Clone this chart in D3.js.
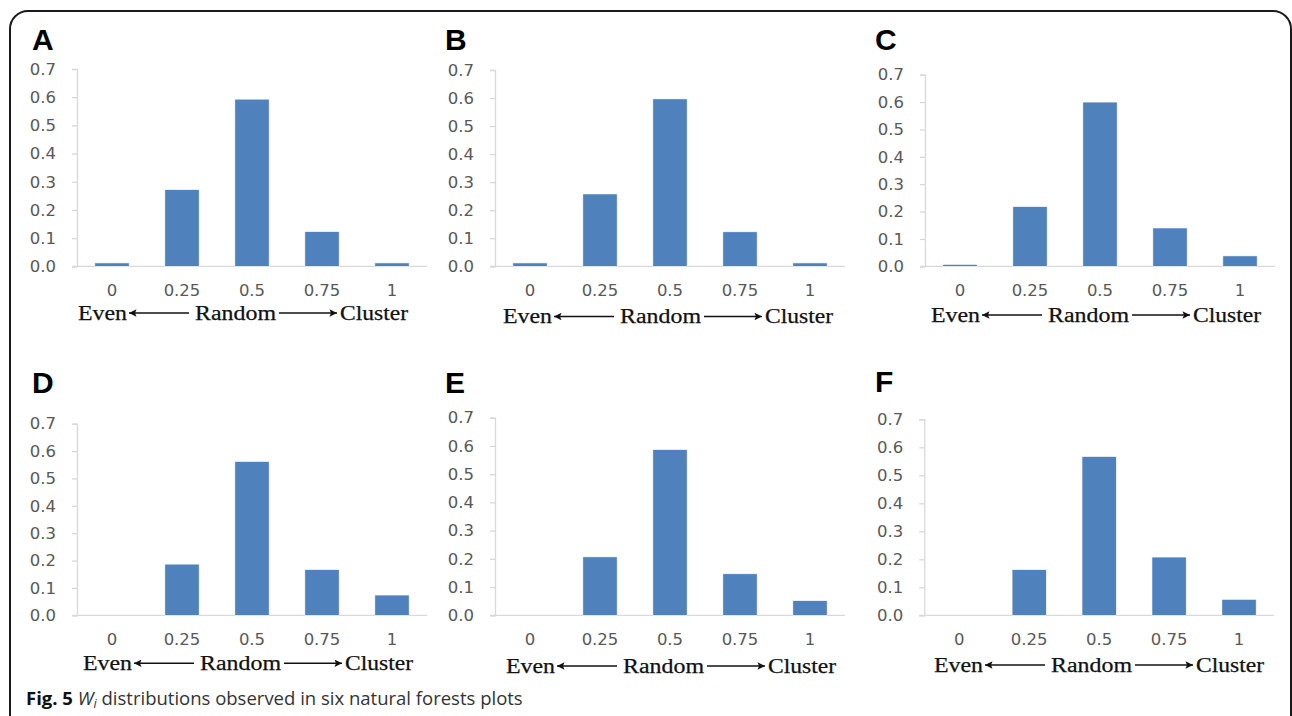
<!DOCTYPE html>
<html>
<head>
<meta charset="utf-8">
<script src="https://cdn.jsdelivr.net/npm/d3@7"></script>
<style>
  html, body { margin: 0; padding: 0; background: #fff; }
  svg { display: block; }
</style>
</head>
<body>
<svg id="chart" width="1292" height="716"></svg>
<script>
// ---------------- DATA ----------------
const categories = ["0", "0.25", "0.5", "0.75", "1"];
const panelLabels = ["A", "B", "C", "D", "E", "F"];
const valuesA = [0.012, 0.272, 0.593, 0.123, 0.012];
const valuesB = [0.012, 0.258, 0.597, 0.123, 0.012];
const valuesC = [0.007, 0.218, 0.600, 0.140, 0.038];
const valuesD = [0.000, 0.187, 0.562, 0.167, 0.074];
const valuesE = [0.000, 0.207, 0.587, 0.147, 0.052];
const valuesF = [0.000, 0.163, 0.567, 0.208, 0.057];
const yTicks = [0, 0.1, 0.2, 0.3, 0.4, 0.5, 0.6, 0.7];
const axisWords = ["Even", "Random", "Cluster"];
const captionBold = "Fig. 5";
const captionVar = "W";
const captionSub = "i";
const captionRest = " distributions observed in six natural forests plots";

const seriesList = [valuesA, valuesB, valuesC, valuesD, valuesE, valuesF];

// ---------------- LAYOUT ----------------
const layout = [
  { x0: 77,    x1: 427,  yTop: 69,    y0: 266.3, lx: 32,  ly: 50,    ax: 78,  ay: 313 },
  { x0: 495,   x1: 845,  yTop: 70,    y0: 266.3, lx: 445, ly: 50,    ax: 503, ay: 316.5 },
  { x0: 925,   x1: 1275, yTop: 74.7,  y0: 266.3, lx: 875, ly: 50,    ax: 931, ay: 315 },
  { x0: 77,    x1: 427,  yTop: 423.7, y0: 615.3, lx: 32,  ly: 392.5, ax: 83,  ay: 663.3 },
  { x0: 495,   x1: 845,  yTop: 417.7, y0: 615.3, lx: 445, ly: 392.5, ax: 506, ay: 666 },
  { x0: 924.3, x1: 1274, yTop: 419.3, y0: 615.3, lx: 875, ly: 391.7, ax: 934, ay: 665 }
];

const svg = d3.select("#chart");
const barColor = "#4f81bd";
const axisColor = "#d9d9d9";
const tickText = "#595959";
const tickFont = "'DejaVu Sans', sans-serif";

// outer rounded frame
svg.append("rect")
  .attr("x", 10).attr("y", 11)
  .attr("width", 1281).attr("height", 800)
  .attr("rx", 18).attr("ry", 18)
  .attr("fill", "none").attr("stroke", "#1a1a1a").attr("stroke-width", 2);

// arrowhead marker
const defs = svg.append("defs");
defs.append("marker")
  .attr("id", "ah").attr("viewBox", "0 0 10 10")
  .attr("refX", 10).attr("refY", 5)
  .attr("markerWidth", 11).attr("markerHeight", 7.5)
  .attr("markerUnits", "userSpaceOnUse")
  .attr("orient", "auto")
  .append("path").attr("d", "M0,0 L10,5 L0,10 L2,5 Z").attr("fill", "#111");

seriesList.forEach((vals, i) => {
  const L = layout[i];
  const g = svg.append("g");

  const x = d3.scaleBand().domain(categories).range([L.x0, L.x1])
    .paddingInner(0.51).paddingOuter(0.255);
  const y = d3.scaleLinear().domain([0, 0.7]).range([L.y0, L.yTop]);

  // baseline (x axis line)
  g.append("line")
    .attr("x1", L.x0 - 5).attr("x2", L.x1)
    .attr("y1", y(0)).attr("y2", y(0))
    .attr("stroke", axisColor).attr("stroke-width", 1.3);

  // y axis
  const yAxis = d3.axisLeft(y).tickValues(yTicks).tickFormat(d3.format(".1f"))
    .tickSize(5).tickPadding(16);
  const ya = g.append("g").attr("transform", `translate(${L.x0},0)`).call(yAxis);
  ya.attr("font-family", null).attr("font-size", null);
  ya.select(".domain").attr("stroke", axisColor).attr("stroke-width", 1.3);
  ya.selectAll(".tick line").attr("stroke", axisColor).attr("stroke-width", 1.3);
  ya.selectAll(".tick text")
    .attr("fill", tickText)
    .style("font-family", tickFont)
    .style("font-size", "16.5px");

  // x axis labels
  const xAxis = d3.axisBottom(x).tickSize(0).tickPadding(18);
  const xa = g.append("g").attr("transform", `translate(0,${y(0)})`).call(xAxis);
  xa.attr("font-family", null).attr("font-size", null);
  xa.select(".domain").remove();
  xa.selectAll(".tick text")
    .attr("fill", tickText)
    .style("font-family", tickFont)
    .style("font-size", "16.5px");

  // bars
  g.selectAll("rect.bar").data(vals.map((v, k) => ({ c: categories[k], v })))
    .join("rect").attr("class", "bar")
    .attr("x", d => x(d.c))
    .attr("width", x.bandwidth())
    .attr("y", d => y(d.v))
    .attr("height", d => y(0) - y(d.v))
    .attr("fill", barColor)
    .attr("stroke", d => d.v > 0 ? "#ffffff" : "none")
    .attr("stroke-width", 0.6);

  // panel letter
  g.append("text")
    .attr("x", L.lx).attr("y", L.ly)
    .text(panelLabels[i])
    .style("font-family", "'Liberation Sans', Arial, sans-serif")
    .style("font-weight", "bold")
    .style("font-size", "30px")
    .attr("fill", "#000");

  // Even <--- Random ---> Cluster
  const base = L.ay + 6.5;
  const wordPos = [
    { t: axisWords[0], dx: 0,   w: 49 },
    { t: axisWords[1], dx: 117, w: 81 },
    { t: axisWords[2], dx: 262, w: 68 }
  ];
  wordPos.forEach(wp => {
    g.append("text")
      .attr("x", L.ax + wp.dx).attr("y", base)
      .attr("textLength", wp.w).attr("lengthAdjust", "spacingAndGlyphs")
      .text(wp.t)
      .style("font-family", "'Liberation Serif', 'Times New Roman', serif")
      .style("font-size", "20.5px")
      .attr("fill", "#111")
      .attr("stroke", "#111").attr("stroke-width", 0.25);
  });
  // left arrow (points toward Even)
  g.append("line")
    .attr("x1", L.ax + 111).attr("x2", L.ax + 51)
    .attr("y1", L.ay).attr("y2", L.ay)
    .attr("stroke", "#111").attr("stroke-width", 1.4)
    .attr("marker-end", "url(#ah)");
  // right arrow (points toward Cluster)
  g.append("line")
    .attr("x1", L.ax + 201).attr("x2", L.ax + 259)
    .attr("y1", L.ay).attr("y2", L.ay)
    .attr("stroke", "#111").attr("stroke-width", 1.4)
    .attr("marker-end", "url(#ah)");
});

// caption
const cap = svg.append("text")
  .attr("x", 26).attr("y", 705)
  .style("font-family", "'Open Sans', 'Noto Sans', sans-serif")
  .style("font-size", "16px")
  .attr("fill", "#333");
cap.append("tspan").text(captionBold).style("font-weight", "bold").attr("fill", "#111");
cap.append("tspan").text(" ");
cap.append("tspan").text(captionVar).style("font-style", "italic");
cap.append("tspan").text(captionSub).style("font-style", "italic")
  .style("font-size", "11px").attr("dy", 3);
cap.append("tspan").text(captionRest).attr("dy", -3);
// fit caption to the width seen in the reference (26 → 523)
const capLen = cap.node().getComputedTextLength();
if (capLen > 0) {
  const fs = 16 * 497 / capLen;
  cap.style("font-size", fs + "px");
  cap.selectAll("tspan").filter((d, k) => k === 3).style("font-size", (fs * 0.68) + "px");
}
</script>
</body>
</html>
